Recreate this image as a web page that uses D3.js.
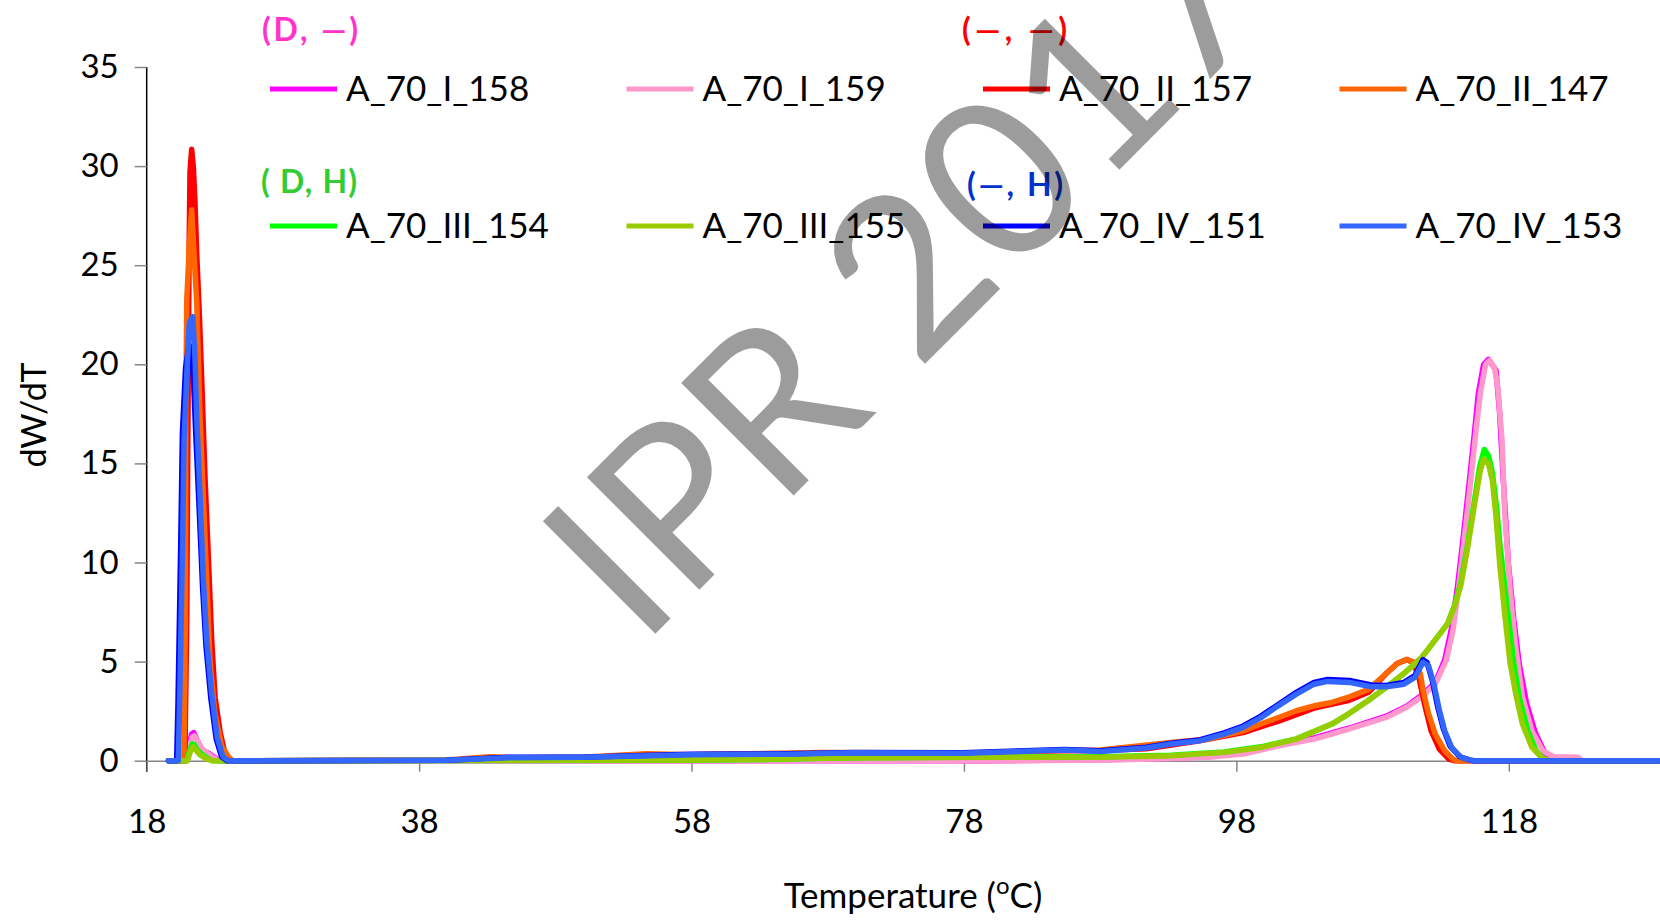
<!DOCTYPE html>
<html>
<head>
<meta charset="utf-8">
<script src="https://cdn.jsdelivr.net/npm/d3@7"></script>
<style>
  html, body { margin: 0; padding: 0; background: #fff; }
  svg { display: block; font-family: Lato, "Open Sans", sans-serif; }
</style>
</head>
<body>
<div id="chart"></div>
<script>
// Series: [temperature (°C), dW/dT]
const I_158 = [[19.6,0],[20.9,0],[21.1,0.8],[21.3,1.35],[21.45,1.42],[21.6,1.2],[21.8,0.9],[22.0,0.6],[22.3,0.45],[22.6,0.35],[23.0,0.15],[23.4,0],[80,0],[88,0.05],[92,0.1],[95.9,0.2],[98.5,0.38],[101.1,0.8],[103.7,1.15],[106.3,1.65],[109.0,2.25],[110.5,2.75],[111.6,3.3],[112.6,3.95],[113.3,5.1],[113.8,6.7],[114.2,8.6],[114.6,10.95],[115.1,14.1],[115.5,16.7],[115.76,18.5],[116.15,20.0],[116.5,20.25],[117.06,19.7],[117.33,17.5],[117.6,14.1],[117.97,9.95],[118.37,7.1],[118.76,4.9],[119.3,2.9],[119.95,1.4],[120.6,0.45],[121.1,0.1],[121.5,0],[129,0]];
const I_159 = [[19.6,0],[21.0,0],[21.15,0.7],[21.35,1.2],[21.5,1.25],[21.7,1.05],[21.9,0.75],[22.2,0.5],[22.5,0.35],[22.9,0.15],[23.3,0],[82,0],[88,0.03],[92,0.08],[95.9,0.17],[98.5,0.34],[101.1,0.75],[103.7,1.09],[106.3,1.6],[109.0,2.18],[110.5,2.7],[111.6,3.22],[112.6,3.86],[113.4,5.05],[113.9,6.58],[114.3,8.6],[114.7,11.0],[115.2,14.1],[115.6,16.7],[115.9,18.5],[116.3,20.0],[116.6,20.2],[116.95,19.8],[117.2,18.8],[117.5,16.2],[117.7,12.5],[118.1,8.6],[118.5,5.74],[119.0,3.22],[119.7,1.5],[120.5,0.5],[121.3,0.2],[123.1,0.17],[123.4,0],[129,0]];
const II_157 = [[19.6,0],[20.8,0],[20.94,7.1],[21.01,15.3],[21.11,25.6],[21.18,29.7],[21.3,30.85],[21.43,29.9],[21.55,28.1],[21.67,25.6],[21.86,22.6],[22.03,19.4],[22.28,14.3],[22.53,10.2],[22.77,6.1],[23.02,3.2],[23.4,1.4],[23.77,0.3],[24.1,0],[40,0.02],[43,0.1],[46,0.15],[50,0.17],[55,0.28],[58,0.3],[65,0.35],[70,0.4],[78,0.36],[85,0.5],[88,0.52],[91.4,0.6],[95.3,1.0],[98.5,1.42],[101.1,2.0],[103.7,2.65],[106.3,3.05],[107.7,3.45],[109.0,4.4],[109.8,4.9],[110.5,5.1],[111.0,4.96],[111.4,4.2],[111.8,2.9],[112.3,1.5],[112.9,0.58],[113.6,0.08],[114.0,0],[129,0]];
const II_147 = [[19.6,0],[20.73,0],[20.84,7.1],[20.87,17.4],[20.94,23.2],[21.13,26.0],[21.3,27.8],[21.47,25.6],[21.67,23.2],[21.91,17.4],[22.28,11.2],[22.65,5.0],[23.0,2.4],[23.5,0.75],[24.0,0.2],[24.3,0],[40,0.03],[43.2,0.2],[45,0.15],[50,0.18],[54.7,0.35],[58,0.3],[62,0.35],[67.7,0.42],[73.3,0.4],[78,0.38],[85,0.52],[88,0.54],[93.2,0.92],[95.9,1.09],[98.5,1.5],[99.8,1.85],[101.1,2.18],[102.4,2.52],[103.7,2.77],[105.0,2.94],[106.3,3.22],[107.7,3.6],[109.0,4.4],[109.8,4.9],[110.5,5.1],[111.1,4.96],[111.5,4.4],[111.7,3.56],[112.1,2.39],[112.6,1.34],[113.3,0.5],[113.9,0.08],[114.2,0],[129,0]];
const III_154 = [[19.6,0],[20.95,0],[21.15,0.5],[21.35,0.85],[21.5,0.8],[21.7,0.55],[22.0,0.35],[22.4,0.15],[22.8,0],[58,0.02],[65,0.08],[70,0.15],[78,0.17],[88,0.2],[93.2,0.27],[97.1,0.44],[99.8,0.7],[102.4,1.1],[105.0,1.85],[106.3,2.39],[107.7,3.05],[109.0,3.7],[110.3,4.4],[111.6,5.2],[112.6,6.1],[113.5,6.9],[114.0,7.8],[114.45,8.9],[114.95,10.8],[115.45,13.0],[115.85,14.8],[116.2,15.7],[116.5,15.4],[116.8,14.5],[117.1,12.8],[117.33,11.0],[117.85,7.9],[118.37,4.9],[118.76,3.2],[119.4,1.5],[120.0,0.5],[120.6,0.05],[121,0],[129,0]];
const III_155 = [[19.6,0],[21.0,0],[21.2,0.45],[21.4,0.7],[21.6,0.55],[21.9,0.3],[22.3,0.12],[22.8,0],[58,0.03],[65,0.1],[70,0.15],[78,0.17],[88,0.17],[93.2,0.25],[97.1,0.42],[99.8,0.67],[102.4,1.09],[105.0,1.85],[106.3,2.39],[107.7,3.05],[109.0,3.7],[110.3,4.4],[111.6,5.2],[112.6,6.1],[113.5,6.9],[114.07,7.9],[114.5,8.9],[114.99,10.8],[115.5,13.0],[115.9,14.6],[116.15,15.2],[116.5,15.0],[116.8,14.1],[117.06,12.3],[117.33,9.95],[117.7,7.4],[118.1,4.9],[118.5,3.4],[119.0,1.85],[119.7,0.67],[120.45,0.13],[121,0],[129,0]];
const IV_151 = [[19.6,0],[20.2,0],[20.3,3.0],[20.5,11.0],[20.62,16.5],[20.85,19.8],[21.1,21.0],[21.3,20.8],[21.45,19.0],[21.6,16.5],[21.8,13.5],[22.1,8.8],[22.35,5.8],[22.7,3.2],[23.1,1.1],[23.5,0.2],[23.9,0],[40,0.02],[44.5,0.17],[50,0.18],[55,0.27],[58,0.32],[65,0.35],[70,0.42],[77.9,0.4],[85.4,0.56],[88,0.5],[91.4,0.68],[93.2,0.88],[95.3,1.05],[97.1,1.4],[98.5,1.75],[99.8,2.25],[101.1,2.85],[102.4,3.45],[103.7,3.95],[104.7,4.1],[106.3,4.05],[107.9,3.82],[109.0,3.8],[110.3,3.95],[111.1,4.3],[111.7,5.1],[112.0,4.95],[112.4,4.0],[112.8,2.65],[113.2,1.6],[113.7,0.72],[114.4,0.2],[115.1,0.04],[115.4,0],[129,0]];
const IV_153 = [[19.6,0],[20.32,0],[20.45,4.0],[20.64,11.2],[20.74,16.1],[20.94,19.4],[21.13,22.1],[21.38,22.4],[21.55,20.3],[21.67,17.4],[21.86,14.3],[22.16,9.15],[22.4,6.1],[22.77,3.4],[23.18,1.15],[23.6,0.2],[24.0,0],[40,0.02],[44.5,0.15],[50,0.17],[55,0.25],[58,0.3],[65,0.33],[70,0.4],[77.9,0.37],[85.4,0.54],[88,0.47],[91.4,0.64],[93.2,0.84],[95.3,1.0],[97.1,1.34],[98.5,1.68],[99.8,2.17],[101.1,2.78],[102.4,3.36],[103.7,3.86],[104.7,4.0],[106.3,3.95],[107.9,3.73],[109.0,3.73],[110.3,3.86],[111.1,4.2],[111.7,4.96],[112.1,4.8],[112.5,3.87],[112.9,2.55],[113.3,1.5],[113.8,0.67],[114.5,0.17],[115.2,0.03],[115.5,0],[129.1,0]];

const seriesNames = ["A_70_I_158", "A_70_I_159", "A_70_II_157", "A_70_II_147",
                     "A_70_III_154", "A_70_III_155", "A_70_IV_151", "A_70_IV_153"];
const seriesValues = [I_158, I_159, II_157, II_147, III_154, III_155, IV_151, IV_153];
const seriesColors = ["#ff00ff", "#ff99cc", "#ff0000", "#ff6600",
                      "#00ff00", "#99cc00", "#0000ff", "#3366ff"];

const xTicks = [18, 38, 58, 78, 98, 118];
const yTicks = [0, 5, 10, 15, 20, 25, 30, 35];

// group labels sitting above the legend entries
const groupLabels = ["(D, \u2014)", "(\u2014, \u2014)", "( D, H)", "(\u2014, H)"];
const groupColors = ["#ff33cc", "#ff0000", "#33cc33", "#0033cc"];

const width = 1660;
const height = 920;

const svg = d3.select("#chart")
    .append("svg")
    .attr("width", width)
    .attr("height", height);

const x = d3.scaleLinear().domain([18, 129.1]).range([146.7, 1660]);
const y = d3.scaleLinear().domain([0, 35]).range([760.7, 67]);

// y axis
const yAxis = svg.append("g")
    .attr("transform", `translate(${x(18)},0)`)
    .call(d3.axisLeft(y).tickValues(yTicks).tickSize(12).tickPadding(16).tickSizeOuter(0));
yAxis.select(".domain").attr("stroke", "#000").attr("stroke-width", 1.5)
    .attr("d", `M0,${y(35)}V${y(0) + 11}`);
yAxis.selectAll(".tick line").attr("stroke", "#868686").attr("stroke-width", 1.5);
yAxis.selectAll(".tick text").attr("font-size", 33).attr("fill", "#000")
    .attr("font-family", "Lato, sans-serif");

// x axis
const xAxis = svg.append("g")
    .attr("transform", `translate(0,${y(0)})`)
    .call(d3.axisBottom(x).tickValues(xTicks).tickSize(11).tickPadding(38).tickSizeOuter(0));
xAxis.select(".domain").attr("stroke", "#868686").attr("stroke-width", 1.5);
xAxis.selectAll(".tick line").attr("stroke", "#868686").attr("stroke-width", 1.5);
xAxis.selectAll(".tick text").attr("font-size", 33).attr("fill", "#000")
    .attr("font-family", "Lato, sans-serif");

// axis titles
const xTitle = svg.append("text")
    .attr("x", 913)
    .attr("y", 908)
    .attr("text-anchor", "middle")
    .attr("font-size", 35);
xTitle.append("tspan").text("Temperature (");
xTitle.append("tspan").attr("font-size", 24).attr("dy", -14).text("o");
xTitle.append("tspan").attr("dy", 14).text("C)");

svg.append("text")
    .attr("transform", "translate(46,415) rotate(-90)")
    .attr("text-anchor", "middle")
    .attr("font-size", 34)
    .text("dW/dT");

// curves
const line = d3.line()
    .x(d => x(d[0]))
    .y(d => y(d[1]));

svg.append("g")
    .selectAll("path")
    .data(seriesValues)
    .join("path")
    .attr("d", line)
    .attr("fill", "none")
    .attr("stroke", (d, i) => seriesColors[i])
    .attr("stroke-width", 5.5)
    .attr("stroke-linejoin", "round")
    .attr("stroke-linecap", "round");

// legend, 4 columns x 2 rows
const legend = svg.append("g");
seriesNames.forEach((name, i) => {
    const lx = 270 + (i % 4) * 356.5;
    const ly = i < 4 ? 89 : 226;
    legend.append("line")
        .attr("x1", lx).attr("x2", lx + 67)
        .attr("y1", ly).attr("y2", ly)
        .attr("stroke", seriesColors[i])
        .attr("stroke-width", 5);
    legend.append("text")
        .attr("x", lx + 76)
        .attr("y", ly + 12)
        .attr("font-size", 35)
        .text(name);
});

const groupPos = [[262, 41], [962, 41], [261, 193], [967, 196]];
const groupWidth = [96, 105, 96, 96];
groupLabels.forEach((g, i) => {
    svg.append("text")
        .attr("x", groupPos[i][0])
        .attr("y", groupPos[i][1])
        .attr("font-size", 32)
        .attr("font-weight", "bold")
        .attr("fill", groupColors[i])
        .attr("textLength", groupWidth[i])
        .attr("lengthAdjust", "spacing")
        .text(g);
});

// watermark over everything
svg.append("text")
    .attr("transform", "translate(641,648) rotate(-45)")
    .attr("font-family", "Lato, sans-serif")
    .attr("font-size", 222)
    .attr("fill", "#000")
    .attr("fill-opacity", 0.39)
    .text("IPR 2017");
</script>
</body>
</html>
